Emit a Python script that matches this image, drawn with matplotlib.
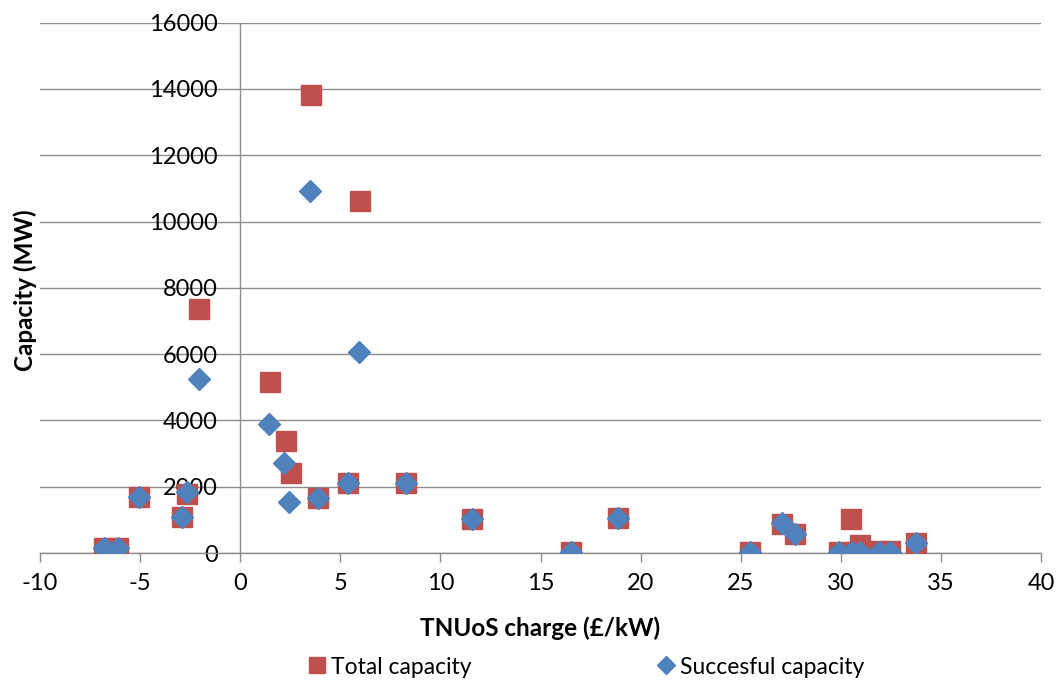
import matplotlib
matplotlib.use("Agg")
import matplotlib.pyplot as plt
from matplotlib.lines import Line2D

plt.rcParams['font.family'] = ['Lato', 'DejaVu Sans']
plt.rcParams['axes.unicode_minus'] = False

# Total capacity (red squares)
total_x = [-6.8, -6.1, -5.04, -2.9, -2.68, -2.05, 1.48, 2.27, 2.52, 3.53, 3.89, 5.39,
           5.98, 8.26, 11.58, 16.5, 18.87, 25.46, 27.06, 27.71, 29.9, 30.52, 30.75,
           30.97, 31.94, 32.47, 33.77]
total_y = [150, 150, 1680, 1095, 1770, 7360, 5157, 3378, 2403, 13822, 1650, 2120,
           10606, 2120, 1025, 40, 1065, 20, 875, 564, 40, 1025, 40,
           241, 50, 50, 292]

# Successful capacity (blue diamonds)
succ_x = [-6.8, -6.1, -5.04, -2.9, -2.68, -2.05, 1.45, 2.18, 2.45, 3.51, 3.89, 5.39,
          5.93, 8.26, 11.58, 16.5, 18.87, 25.46, 27.06, 27.71, 29.9, 30.57, 30.94,
          31.9, 32.44, 33.77]
succ_y = [150, 150, 1680, 1095, 1850, 5240, 3890, 2723, 1548, 10926, 1650, 2120,
          6053, 2120, 1025, 40, 1065, 20, 895, 564, 40, 40, 40,
          40, 40, 292]

x_ticks = [-10, -5, 0, 5, 10, 15, 20, 25, 30, 35, 40]
y_ticks = [0, 2000, 4000, 6000, 8000, 10000, 12000, 14000, 16000]

RED = '#C0504D'
BLUE = '#4F81BD'
GRID = '#8C8C8C'

fig = plt.figure(figsize=(10.57, 6.86), dpi=100)
ax = fig.add_axes([40/1057, 1 - 553/686, (1041 - 40)/1057, (553 - 22.7)/686])

ax.plot(total_x, total_y, ls='none', marker='s', markersize=15,
        color=RED, markeredgecolor=RED, zorder=3, label='Total capacity')
ax.plot(succ_x, succ_y, ls='none', marker='D', markersize=11.5,
        color=BLUE, markeredgecolor=BLUE, zorder=4, label='Succesful capacity')

ax.set_xlim(-10, 40)
ax.set_ylim(0, 16000)
ax.set_xticks(x_ticks)
ax.set_yticks(y_ticks)
ax.set_xticklabels([str(t) for t in x_ticks])
ax.set_yticklabels([str(t) for t in y_ticks])

ax.spines['left'].set_position(('data', 0))
ax.spines['top'].set_visible(False)
ax.spines['right'].set_visible(False)
for s in ['left', 'bottom']:
    ax.spines[s].set_color(GRID)
    ax.spines[s].set_linewidth(1.0)

ax.yaxis.grid(True, color=GRID, linewidth=1.0)
ax.set_axisbelow(True)
ax.tick_params(axis='y', length=0, pad=16, labelsize=17, colors='black')
ax.tick_params(axis='x', length=6.5, width=1.0, color=GRID, direction='out',
               pad=8, labelsize=17, labelcolor='black')

ax.set_xlabel('TNUoS charge (£/kW)', fontsize=17.5, fontweight='bold', labelpad=16)
fig.text(25/1057, 1 - 290/686, 'Capacity (MW)', rotation=90, fontsize=17.5,
         fontweight='bold', ha='center', va='center')

handles = [
    Line2D([], [], ls='none', marker='s', markersize=11, color=RED),
    Line2D([], [], ls='none', marker='D', markersize=9, color=BLUE),
]
fig.legend(handles, ['Total capacity', 'Succesful capacity'], loc='center',
           bbox_to_anchor=(585/1057, 1 - 667/686), ncol=2, frameon=False,
           fontsize=16.5, columnspacing=8, handletextpad=0.1, handlelength=1.0)

fig.savefig('out.png', dpi=100)
